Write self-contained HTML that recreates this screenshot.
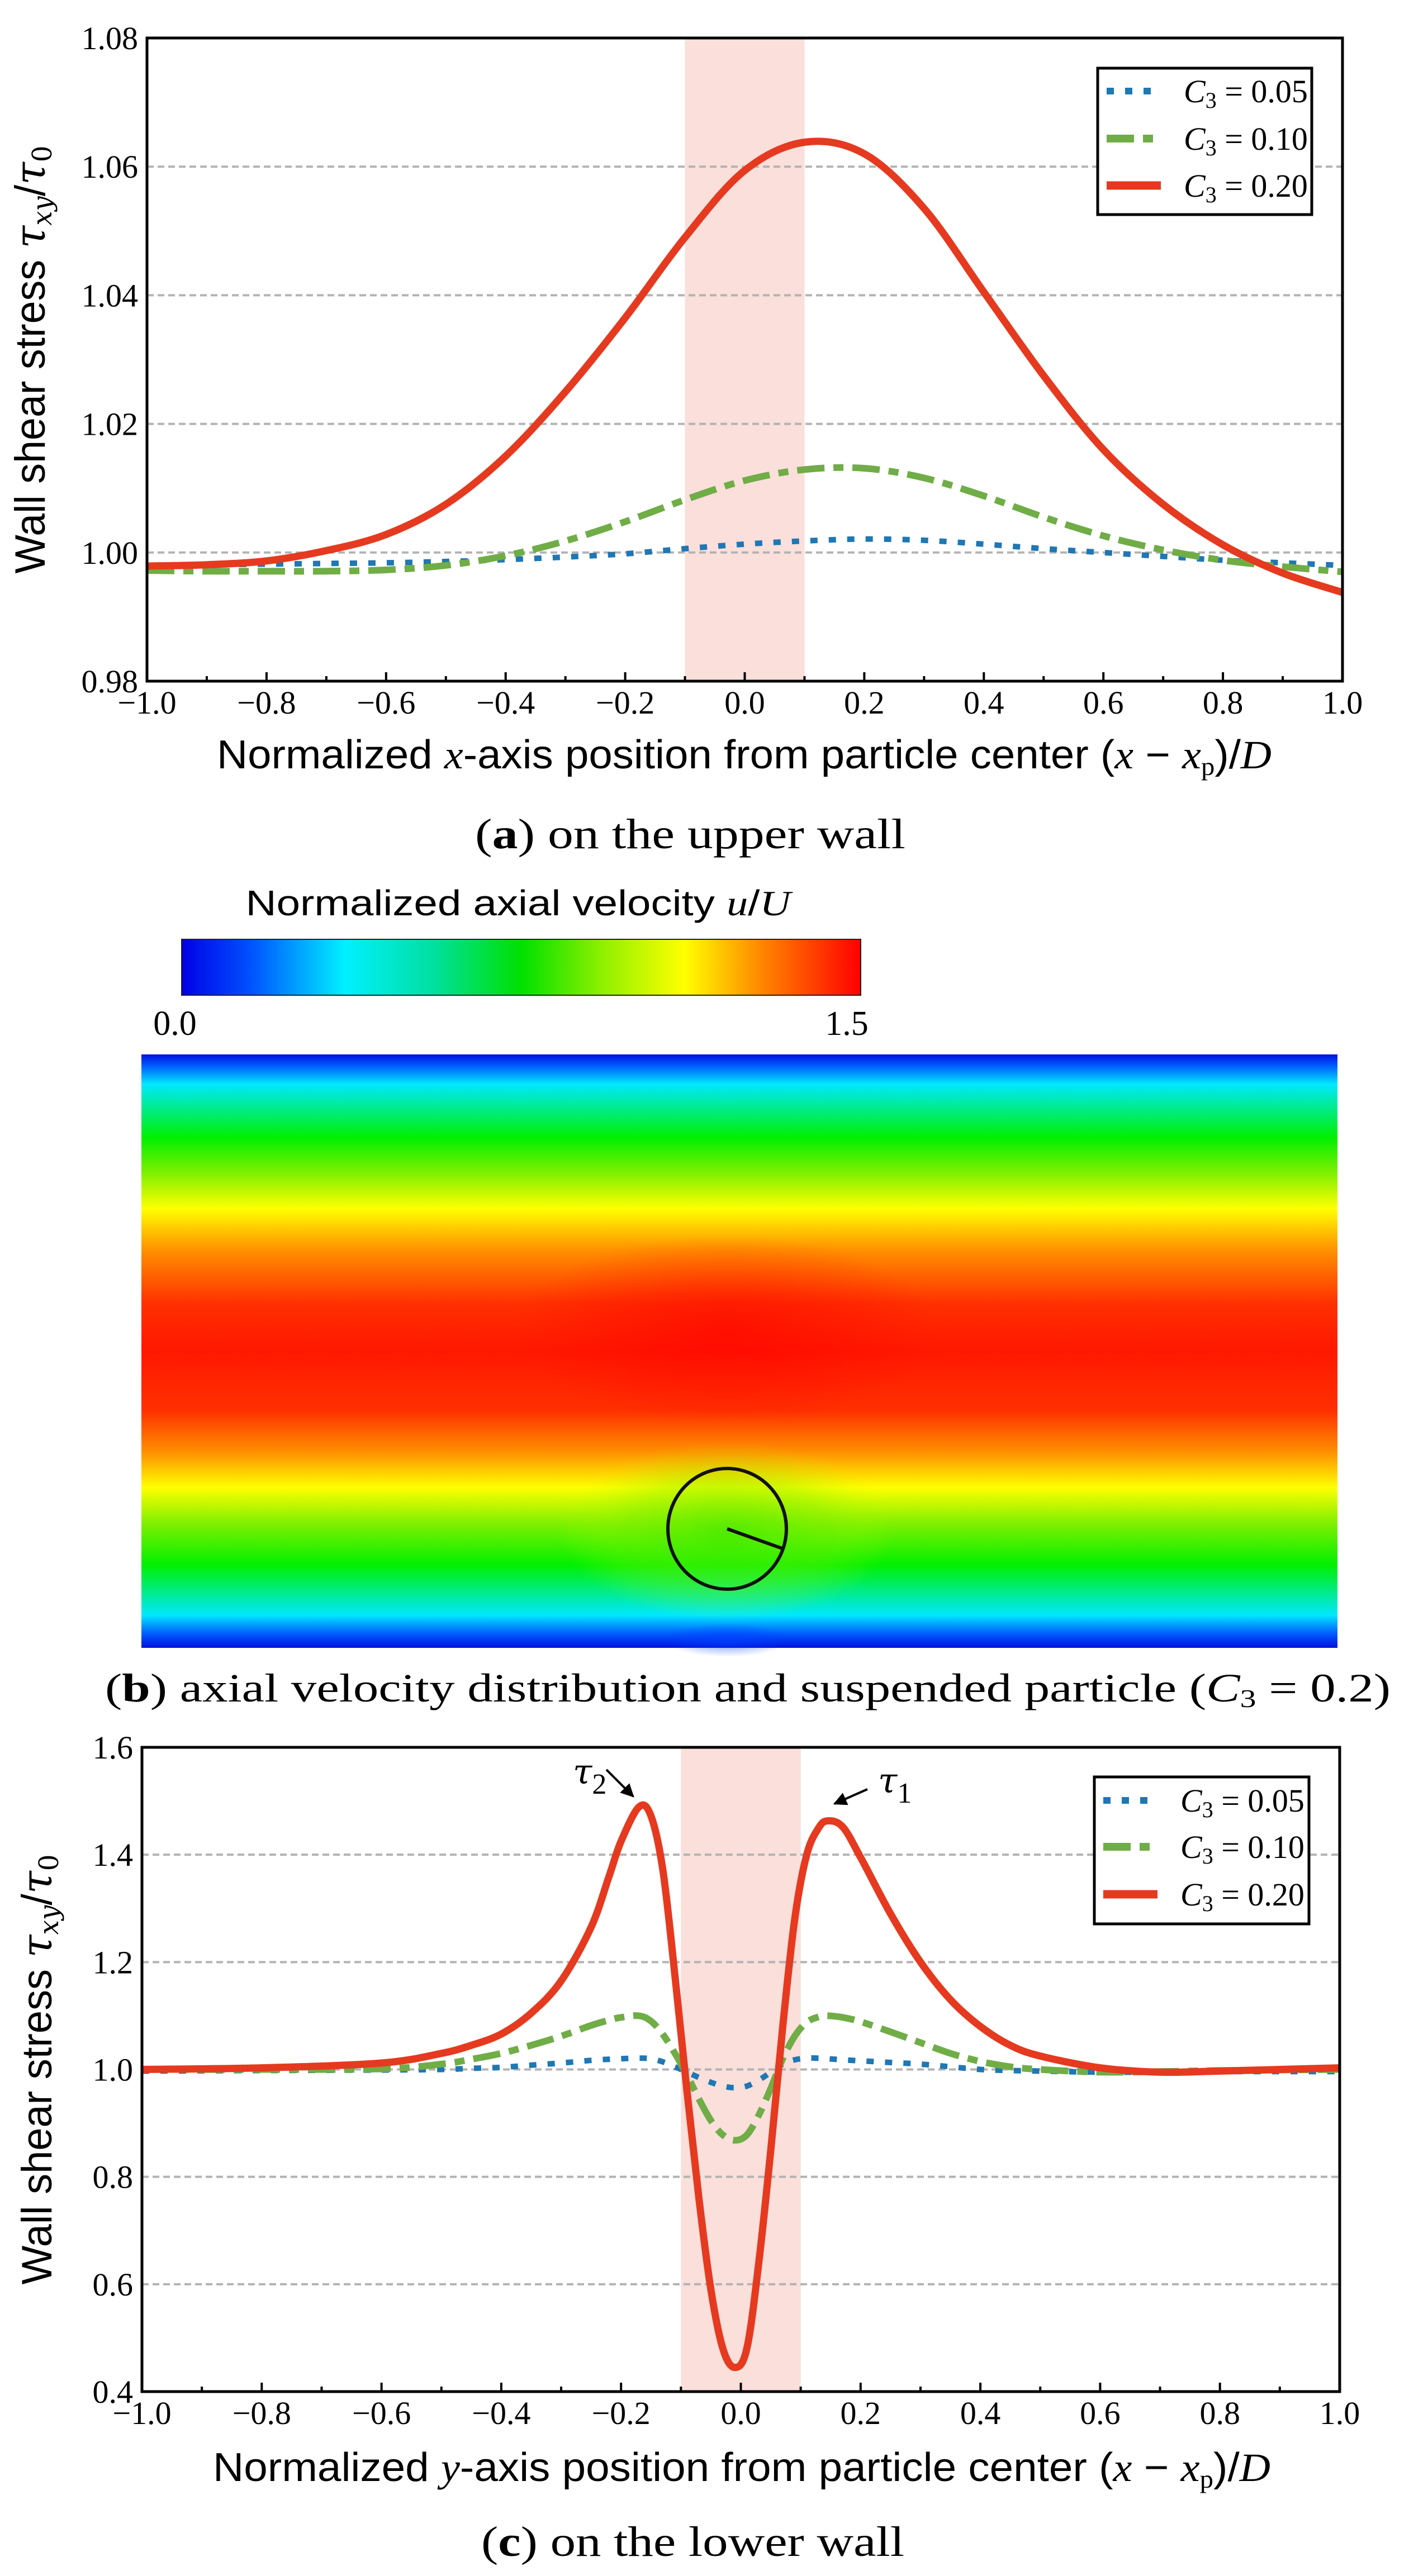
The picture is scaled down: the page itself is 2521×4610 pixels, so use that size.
<!DOCTYPE html>
<html><head><meta charset="utf-8"><style>
html,body{margin:0;padding:0;background:#fff;}
svg{display:block;}
</style></head><body>
<svg id="fig" xmlns="http://www.w3.org/2000/svg" width="2521" height="4610" viewBox="0 0 2521 4610">
<defs>
<linearGradient id="jetH" x1="0" y1="0" x2="1" y2="0">
<stop offset="0" stop-color="#0000e6"/><stop offset="0.1" stop-color="#0050ff"/><stop offset="0.24" stop-color="#00f0ff"/>
<stop offset="0.37" stop-color="#00e0a0"/><stop offset="0.5" stop-color="#00e000"/><stop offset="0.62" stop-color="#90f000"/>
<stop offset="0.74" stop-color="#ffff00"/><stop offset="0.86" stop-color="#ff8000"/><stop offset="1" stop-color="#ff0000"/>
</linearGradient>
<linearGradient id="flowV" x1="0" y1="0" x2="0" y2="1">
<stop offset="0" stop-color="#0010e0"/><stop offset="0.02" stop-color="#0060ff"/><stop offset="0.05" stop-color="#00e8ff"/>
<stop offset="0.14" stop-color="#00f000"/><stop offset="0.2" stop-color="#80f000"/><stop offset="0.26" stop-color="#ffff00"/>
<stop offset="0.33" stop-color="#ff9000"/><stop offset="0.42" stop-color="#ff3000"/><stop offset="0.5" stop-color="#ff1800"/>
<stop offset="0.6" stop-color="#ff3000"/><stop offset="0.67" stop-color="#ff9000"/><stop offset="0.73" stop-color="#ffff00"/>
<stop offset="0.79" stop-color="#80f000"/><stop offset="0.86" stop-color="#00f000"/><stop offset="0.945" stop-color="#00e8ff"/>
<stop offset="0.975" stop-color="#0060ff"/><stop offset="1" stop-color="#0010e0"/>
</linearGradient>
<radialGradient id="partGlow" cx="0.5" cy="0.5" r="0.5">
<stop offset="0" stop-color="#40e800" stop-opacity="0.6"/><stop offset="0.6" stop-color="#80f000" stop-opacity="0.35"/><stop offset="1" stop-color="#c0ff00" stop-opacity="0"/>
</radialGradient>
<radialGradient id="redGlow" cx="0.5" cy="0.5" r="0.5">
<stop offset="0" stop-color="#ff0000" stop-opacity="0.8"/><stop offset="1" stop-color="#ff0000" stop-opacity="0"/>
</radialGradient>
<radialGradient id="blueDip" cx="0.5" cy="0.5" r="0.5">
<stop offset="0" stop-color="#0040ff" stop-opacity="0.6"/><stop offset="1" stop-color="#0040ff" stop-opacity="0"/>
</radialGradient>
<marker id="arrow" viewBox="0 0 10 10" refX="9" refY="5" markerWidth="6" markerHeight="6" orient="auto-start-reverse">
<path d="M0,0 L10,5 L0,10 z" fill="#000"/>
</marker>
</defs>
<g id="panelA"></g>
<g id="panelB">
<text x="927" y="1638" font-family="Liberation Sans, sans-serif" font-size="64" text-anchor="middle" textLength="975" lengthAdjust="spacingAndGlyphs">Normalized axial velocity <tspan font-family="Liberation Serif, serif" font-style="italic">u</tspan>/<tspan font-family="Liberation Serif, serif" font-style="italic">U</tspan></text>
<rect x="325" y="1681" width="1215" height="100" fill="url(#jetH)" stroke="#222" stroke-width="2"/>
<text x="313" y="1852" font-family="Liberation Serif, serif" font-size="62" text-anchor="middle">0.0</text>
<text x="1515" y="1852" font-family="Liberation Serif, serif" font-size="62" text-anchor="middle">1.5</text>
<g>
<rect x="253" y="1887" width="2140" height="1062" fill="url(#flowV)"/>
<ellipse cx="1301" cy="2380" rx="380" ry="170" fill="url(#redGlow)" opacity="0.7"/>
<ellipse cx="1301" cy="2740" rx="300" ry="160" fill="url(#partGlow)"/>
<ellipse cx="1301" cy="2935" rx="110" ry="30" fill="url(#blueDip)"/>
</g>
<ellipse cx="1301" cy="2736" rx="106" ry="108" fill="none" stroke="#111" stroke-width="6"/>
<line x1="1301" y1="2736" x2="1402" y2="2772" stroke="#111" stroke-width="6"/>
<text x="1338" y="3045" font-family="Liberation Serif, serif" font-size="72" text-anchor="middle" textLength="2300" lengthAdjust="spacingAndGlyphs">(<tspan font-weight="bold">b</tspan>) axial velocity distribution and suspended particle (<tspan font-style="italic">C</tspan><tspan font-size="46" dy="10">3</tspan><tspan dy="-10"> = 0.2)</tspan></text>
</g>
<g id="panelC"></g>
</svg>
<script>
// ---- Panel (a) data ----
const xA = [-1,-0.9,-0.8,-0.7,-0.6,-0.5,-0.4,-0.3,-0.2,-0.1,0,0.1,0.2,0.3,0.4,0.5,0.6,0.7,0.8,0.9,1.0];
const a005 = [0.9980,0.9981,0.9982,0.9983,0.9984,0.9986,0.9989,0.9993,0.9998,1.0006,1.0013,1.0018,1.0021,1.0019,1.0013,1.0006,1.0000,0.9994,0.9988,0.9984,0.9980];
const a010 = [0.9972,0.9971,0.9971,0.9971,0.9973,0.9980,0.9995,1.0018,1.0048,1.0082,1.0112,1.0129,1.0131,1.0116,1.0088,1.0055,1.0026,1.0004,0.9988,0.9978,0.9970];
const a020 = [0.9979,0.9981,0.9987,1.0003,1.0028,1.0075,1.0150,1.0250,1.0365,1.0490,1.0594,1.0638,1.0620,1.0535,1.0405,1.0275,1.0160,1.0075,1.0012,0.9968,0.9938];
const yTicksA = [0.98,1.00,1.02,1.04,1.06,1.08];
const yTickLabelsA = ["0.98","1.00","1.02","1.04","1.06","1.08"];
const gridA = [1.00,1.02,1.04,1.06];
// ---- Panel (c) data ----
const xC = [-1,-0.8,-0.6,-0.5,-0.45,-0.4,-0.35,-0.3,-0.25,-0.22,-0.2,-0.17,-0.15,-0.13,-0.11,-0.09,-0.07,-0.05,-0.03,-0.01,0.01,0.03,0.05,0.07,0.09,0.11,0.13,0.145,0.17,0.2,0.25,0.3,0.35,0.4,0.45,0.5,0.6,0.7,0.8,1.0];
const c020 = [1.000,1.003,1.012,1.030,1.045,1.066,1.105,1.165,1.265,1.360,1.425,1.489,1.472,1.370,1.175,0.960,0.760,0.590,0.480,0.445,0.480,0.640,0.850,1.080,1.280,1.400,1.450,1.463,1.452,1.395,1.290,1.200,1.130,1.080,1.045,1.025,1.003,0.995,0.997,1.003];
const c010 = [1.000,1.000,1.001,1.010,1.019,1.030,1.045,1.062,1.082,1.092,1.097,1.100,1.090,1.065,1.030,0.990,0.945,0.905,0.878,0.868,0.878,0.915,0.965,1.020,1.062,1.088,1.098,1.100,1.097,1.089,1.070,1.050,1.030,1.015,1.005,1.000,0.995,0.996,0.998,1.000];
const c005 = [0.997,0.998,0.999,1.000,1.002,1.004,1.008,1.012,1.017,1.019,1.020,1.021,1.020,1.014,1.005,0.995,0.985,0.976,0.969,0.966,0.969,0.980,0.995,1.010,1.018,1.021,1.021,1.020,1.018,1.016,1.013,1.010,1.005,1.000,0.998,0.997,0.995,0.995,0.996,0.996];
const yTicksC = [0.4,0.6,0.8,1.0,1.2,1.4,1.6];
const yTickLabelsC = ["0.4","0.6","0.8","1.0","1.2","1.4","1.6"];
const gridC = [0.6,0.8,1.0,1.2,1.4];
const xTicks = [-1,-0.8,-0.6,-0.4,-0.2,0,0.2,0.4,0.6,0.8,1.0];
const xTickLabels = ["\u22121.0","\u22120.8","\u22120.6","\u22120.4","\u22120.2","0.0","0.2","0.4","0.6","0.8","1.0"];
const xMinor = [-0.9,-0.7,-0.5,-0.3,-0.1,0.1,0.3,0.5,0.7,0.9];
const legendLabels = ["0.05","0.10","0.20"];

const NS = "http://www.w3.org/2000/svg";
function mk(tag, attrs, parent){const e=document.createElementNS(NS,tag);for(const k in attrs)e.setAttribute(k,attrs[k]);parent.appendChild(e);return e;}
function smooth(pts){
  let d="M"+pts[0][0].toFixed(1)+","+pts[0][1].toFixed(1);
  for(let i=0;i<pts.length-1;i++){
    const p0=pts[Math.max(0,i-1)],p1=pts[i],p2=pts[i+1],p3=pts[Math.min(pts.length-1,i+2)];
    const c1=[p1[0]+(p2[0]-p0[0])/6,p1[1]+(p2[1]-p0[1])/6];
    const c2=[p2[0]-(p3[0]-p1[0])/6,p2[1]-(p3[1]-p1[1])/6];
    d+=" C"+c1[0].toFixed(1)+","+c1[1].toFixed(1)+" "+c2[0].toFixed(1)+","+c2[1].toFixed(1)+" "+p2[0].toFixed(1)+","+p2[1].toFixed(1);
  }
  return d;
}
const styles = {
  b:{stroke:"#1f77b4",w:10,dash:"13 20",cap:"butt"},
  g:{stroke:"#70ad47",w:12,dash:"49 16 18 16",cap:"butt"},
  r:{stroke:"#e53a1f",w:13,dash:"",cap:"round"}
};

function buildPanel(cfg){
  const g = document.getElementById(cfg.id);
  const L=cfg.L,R=cfg.R,T=cfg.T,B=cfg.B;
  const sx = v => L+(v+1)/2*(R-L);
  const sy = v => B-(v-cfg.ymin)/(cfg.ymax-cfg.ymin)*(B-T);
  const band = mk("rect",{x:sx(-0.1),y:T,width:sx(0.1)-sx(-0.1),height:B-T,fill:"#fadfdb"},g);
  
  
  cfg.grid.forEach(v=>{
    const ln=mk("line",{x1:L,x2:R,y1:sy(v),y2:sy(v),stroke:"#b3b3b3","stroke-width":4,"stroke-dasharray":"12 7"},g);
    
    
  });
  const clip = mk("clipPath",{id:cfg.id+"clip"},g);
  mk("rect",{x:L,y:T,width:R-L,height:B-T},clip);
  cfg.series.forEach(s=>{
    const st=styles[s.k];
    const pts=cfg.x.map((xv,i)=>[sx(xv),sy(s.v[i])]);
    const p=mk("path",{d:smooth(pts),fill:"none",stroke:st.stroke,"stroke-width":st.w,"stroke-linecap":st.cap,"stroke-linejoin":"round","clip-path":"url(#"+cfg.id+"clip)"},g);
    if(st.dash)p.setAttribute("stroke-dasharray",st.dash);
    
    
  });
  const fr=mk("rect",{x:L,y:T,width:R-L,height:B-T,fill:"none",stroke:"#000","stroke-width":5},g);
  
  
  xTicks.forEach((v,i)=>{
    const t=mk("line",{x1:sx(v),x2:sx(v),y1:B,y2:B-16,stroke:"#000","stroke-width":4},g);
    
    
    const tx=mk("text",{x:sx(v),y:B+58,"font-family":"Liberation Serif, serif","font-size":58,"text-anchor":"middle"},g);
    tx.textContent=xTickLabels[i];
    
    
  });
  xMinor.forEach(v=>{
    const t=mk("line",{x1:sx(v),x2:sx(v),y1:B,y2:B-9,stroke:"#000","stroke-width":4},g);
    
    
  });
  cfg.yt.forEach((v,i)=>{
    const tx=mk("text",{x:L-16,y:sy(v)+20,"font-family":"Liberation Serif, serif","font-size":58,"text-anchor":"end"},g);
    tx.textContent=cfg.ytl[i];
    
    
  });
  const yt=mk("text",{x:0,y:0,"font-family":"Liberation Sans, sans-serif","font-size":76,"text-anchor":"middle",transform:"translate("+cfg.ytx+","+((T+B)/2)+") rotate(-90)"},g);
  yt.innerHTML='Wall shear stress <tspan font-family="DejaVu Serif, serif" font-style="italic">τ</tspan><tspan font-family="DejaVu Serif, serif" font-style="italic" font-size="48" dy="12">xy</tspan><tspan dy="-12">/</tspan><tspan font-family="DejaVu Serif, serif" font-style="italic">τ</tspan><tspan font-family="DejaVu Serif, serif" font-size="48" dy="12">0</tspan>';
  yt.setAttribute("textLength",cfg.ytLen);
  yt.setAttribute("lengthAdjust","spacingAndGlyphs");
  
  
  const xt=mk("text",{x:(cfg.xtL+cfg.xtR)/2,y:cfg.xtY,"font-family":"Liberation Sans, sans-serif","font-size":72,"text-anchor":"middle",textLength:cfg.xtR-cfg.xtL,lengthAdjust:"spacingAndGlyphs"},g);
  xt.innerHTML='Normalized <tspan font-family="Liberation Serif, serif" font-style="italic">'+cfg.axisVar+'</tspan>-axis position from particle center (<tspan font-family="Liberation Serif, serif" font-style="italic">x</tspan> − <tspan font-family="Liberation Serif, serif" font-style="italic">x</tspan><tspan font-family="Liberation Serif, serif" font-size="46" dy="12">p</tspan><tspan dy="-12">)/</tspan><tspan font-family="Liberation Serif, serif" font-style="italic">D</tspan>';
  
  
  const cp=mk("text",{x:(cfg.cpL+cfg.cpR)/2,y:cfg.cpY,"font-family":"Liberation Serif, serif","font-size":76,"text-anchor":"middle",textLength:cfg.cpR-cfg.cpL,lengthAdjust:"spacingAndGlyphs"},g);
  cp.innerHTML='(<tspan font-weight="bold">'+cfg.letter+'</tspan>) '+cfg.caption;
  
  
  const lg=mk("g",{},g);
  
  
  mk("rect",{x:cfg.lgL,y:cfg.lgT,width:cfg.lgR-cfg.lgL,height:cfg.lgB-cfg.lgT,fill:"#fff",stroke:"#000","stroke-width":5},lg);
  const keys=["b","g","r"];
  keys.forEach((k,i)=>{
    const st=styles[k];
    const yy=cfg.lgRows[i];
    const e=mk("g",{},lg);
    
    
    const ln=mk("line",{x1:cfg.lgL+16,x2:cfg.lgL+113,y1:yy,y2:yy,stroke:st.stroke,"stroke-width":st.w+2},e);
    if(st.dash)ln.setAttribute("stroke-dasharray",st.dash);
    const tx=mk("text",{x:cfg.lgL+154,y:yy+20,"font-family":"Liberation Serif, serif","font-size":58},e);
    tx.innerHTML='<tspan font-style="italic">C</tspan><tspan font-size="40" dy="10">3</tspan><tspan dy="-10"> = '+legendLabels[i]+'</tspan>';
  });
  return {sx,sy,g};
}

buildPanel({id:"panelA",L:263,R:2402,T:68,B:1219,ymin:0.98,ymax:1.08,grid:gridA,yt:yTicksA,ytl:yTickLabelsA,
  x:xA,series:[{k:"b",v:a005,name:"series-c3-0.05"},{k:"g",v:a010,name:"series-c3-0.10"},{k:"r",v:a020,name:"series-c3-0.20"}],
  ytx:80,ytLen:766,xtL:388,xtR:2275,xtY:1375,axisVar:"x",cpL:850,cpR:1620,cpY:1518,letter:"a",caption:"on the upper wall",
  lgL:1964,lgR:2347,lgT:122,lgB:384,lgRows:[163,248,332]});

const pc=buildPanel({id:"panelC",L:254,R:2397,T:3127,B:4280,ymin:0.4,ymax:1.6,grid:gridC,yt:yTicksC,ytl:yTickLabelsC,
  x:xC,series:[{k:"b",v:c005,name:"series-c3-0.05"},{k:"g",v:c010,name:"series-c3-0.10"},{k:"r",v:c020,name:"series-c3-0.20"}],
  ytx:92,ytLen:770,xtL:381,xtR:2273,xtY:4440,axisVar:"y",cpL:861,cpR:1618,cpY:4574,letter:"c",caption:"on the lower wall",
  lgL:1958,lgR:2342,lgT:3180,lgB:3443,lgRows:[3222,3305,3390]});

const ann=mk("g",{},pc.g);


const t2=mk("text",{x:1025,y:3192,"font-family":"DejaVu Serif, serif","font-size":62,"font-style":"italic"},ann);
t2.innerHTML='τ<tspan font-style="normal" font-family="Liberation Serif, serif" font-size="52" dy="18">2</tspan>';


const t1=mk("text",{x:1571,y:3208,"font-family":"DejaVu Serif, serif","font-size":62,"font-style":"italic"},ann);
t1.innerHTML='τ<tspan font-style="normal" font-family="Liberation Serif, serif" font-size="52" dy="18">1</tspan>';


const a2=mk("line",{x1:1085,y1:3167,x2:1133,y2:3215,stroke:"#000","stroke-width":4,"marker-end":"url(#arrow)"},ann);


const a1=mk("line",{x1:1552,y1:3202,x2:1493,y2:3228,stroke:"#000","stroke-width":4,"marker-end":"url(#arrow)"},ann);


</script>
</body></html>
